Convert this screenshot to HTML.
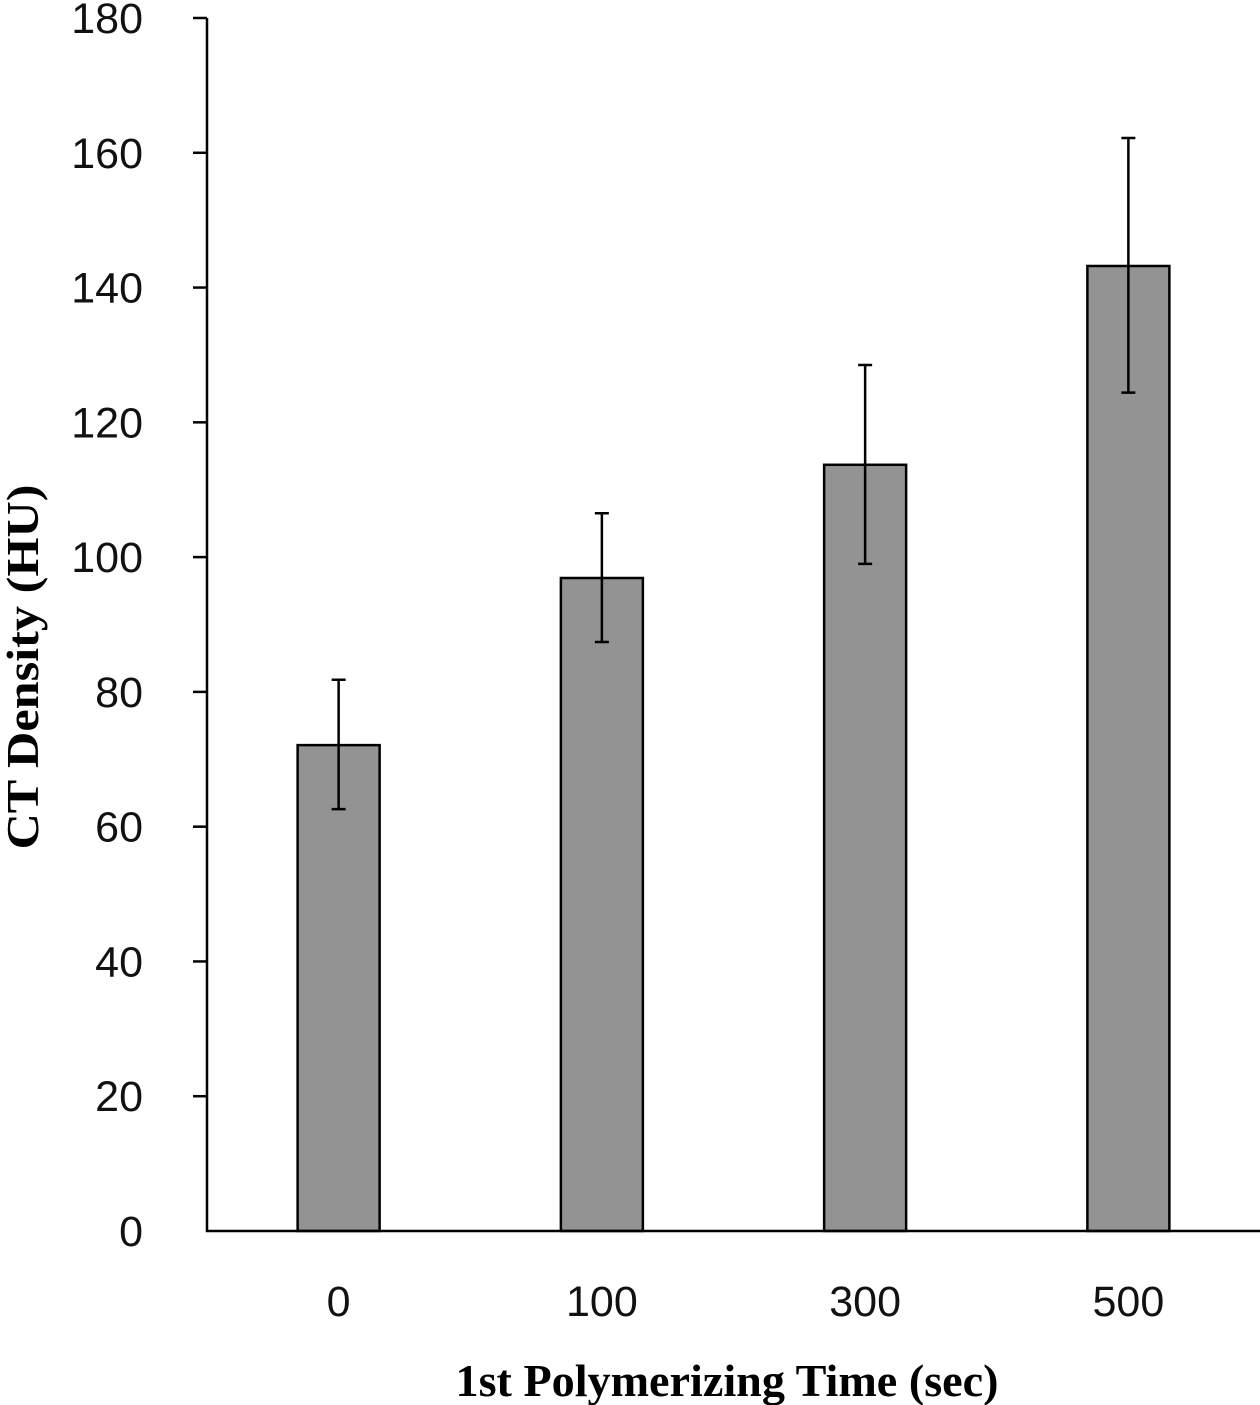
<!DOCTYPE html>
<html><head><meta charset="utf-8"><style>
body{margin:0;background:#fff;}
svg{display:block;}
.tk{font-family:"Liberation Sans","Noto Sans CJK KR",sans-serif;font-size:43px;fill:#111;}
.ttl{font-family:"Liberation Serif",serif;font-weight:bold;font-size:46px;fill:#000;}
</style></head><body>
<svg id="chart" width="1260" height="1405"></svg>
<script>
const categories=["0","100","300","500"];
const values=[72.1,96.9,113.7,143.2];
const errUpper=[81.8,106.5,128.5,162.2];
const errLower=[62.6,87.4,99.0,124.4];
const yTicks=[0,20,40,60,80,100,120,140,160,180];
const NS="http://www.w3.org/2000/svg";
const svg=document.getElementById('chart');
const x0=207,x1=1260,yBase=1231,yTop=18,yMax=180;
const band=(x1-x0)/categories.length,barW=82;
const Y=v=>yBase-(v/yMax)*(yBase-yTop);
const X=i=>x0+band*(i+0.5);
function mk(t,a){const e=document.createElementNS(NS,t);for(const k in a)e.setAttribute(k,a[k]);svg.appendChild(e);return e;}
categories.forEach((c,i)=>{
 const b=mk('rect',{x:X(i)-barW/2,y:Y(values[i]),width:barW,height:yBase-Y(values[i]),fill:'#939393',stroke:'#000','stroke-width':2.5});
 
 
 const g=mk('path',{d:`M${X(i)},${Y(errUpper[i])}V${Y(errLower[i])}M${X(i)-7},${Y(errUpper[i])}h14M${X(i)-7},${Y(errLower[i])}h14`,stroke:'#000','stroke-width':2.5,fill:'none'});
 
 
 const t=mk('text',{x:X(i),y:1316,'text-anchor':'middle',class:'tk'});t.textContent=c;
 
 
});
yTicks.forEach(v=>{
 if(v>0){
 const l=mk('line',{x1:193,x2:x0,y1:Y(v),y2:Y(v),stroke:'#000','stroke-width':2.5});
 
 
 }
 const t=mk('text',{x:143,y:Y(v)+15,'text-anchor':'end',class:'tk'});t.textContent=v;
 
 
});
const ax=mk('path',{d:`M${x0},${yTop}V${yBase}H${x1}`,stroke:'#000','stroke-width':2.5,fill:'none'});


const xt=mk('text',{x:727,y:1396,'text-anchor':'middle',class:'ttl',textLength:543,lengthAdjust:'spacingAndGlyphs'});xt.textContent='1st Polymerizing Time (sec)';


const yt=mk('text',{x:0,y:0,'text-anchor':'middle',class:'ttl',textLength:365,lengthAdjust:'spacingAndGlyphs',transform:'translate(38,667) rotate(-90)'});yt.textContent='CT Density (HU)';


</script>
</body></html>
